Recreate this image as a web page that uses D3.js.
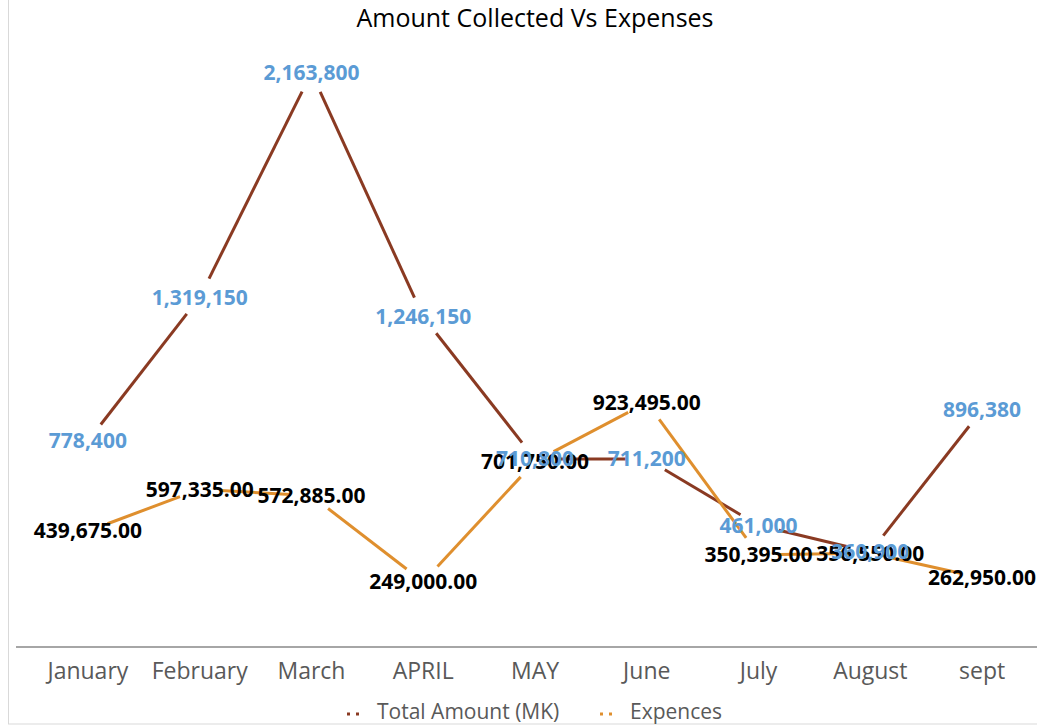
<!DOCTYPE html>
<html>
<head>
<meta charset="utf-8">
<script src="https://cdn.jsdelivr.net/npm/d3@7"></script>
<style>
  body { margin: 0; background: #fff; }
  text { font-family: "Open Sans", "Noto Sans", sans-serif; }
</style>
</head>
<body>
<script>
const w = 1037;
const h = 726;

const months = ["January", "February", "March", "APRIL", "MAY", "June", "July", "August", "sept"];
const totalAmount = [778400, 1319150, 2163800, 1246150, 710800, 711200, 461000, 360900, 896380];
const expences = [439675, 597335, 572885, 249000, 701750, 923495, 350395, 356550, 262950];
const seriesNames = ["Total Amount (MK)", "Expences"];

const brown = "#8a3a22";
const orange = "#df8f2e";
const gap = 21; // lines stop short of each point

const svg = d3.select("body").append("svg").attr("width", w).attr("height", h);

// chart frame
svg.append("rect")
  .attr("x", 8.5).attr("y", -5)
  .attr("width", w + 5).attr("height", 729)
  .attr("fill", "#fff")
  .attr("stroke", "#d9d9d9");

// scales
const xScale = d3.scaleBand().domain(months).range([32, 1038]);
const yScale = d3.scaleLinear().domain([0, 2400000]).range([648, 648 - 2400000 * 2.658e-4]);
const cx = (i) => xScale(months[i]) + xScale.bandwidth() / 2;

// title
svg.append("text")
  .attr("x", 535).attr("y", 27)
  .attr("text-anchor", "middle")
  .style("font-size", "25px")
  .style("fill", "#000")
  .text("Amount Collected Vs Expenses");

// x axis
const xAxis = d3.axisBottom(xScale).tickSize(0).tickPadding(16);
const gx = svg.append("g")
  .attr("transform", "translate(0,647)")
  .call(xAxis);
gx.select(".domain")
  .attr("d", "M16,0H1037")
  .attr("stroke", "#a6a6a6")
  .attr("stroke-width", 2);
gx.selectAll("text")
  .style("font-family", "'Open Sans', sans-serif")
  .style("font-size", "23px")
  .style("fill", "#595959");

// broken line segments
function drawSegments(values, color) {
  const pts = values.map((v, i) => [cx(i), yScale(v)]);
  svg.append("g")
    .selectAll("line")
    .data(d3.pairs(pts))
    .enter()
    .append("line")
    .each(function ([a, b]) {
      const dx = b[0] - a[0];
      const dy = b[1] - a[1];
      const len = Math.sqrt(dx * dx + dy * dy);
      const ux = dx / len, uy = dy / len;
      d3.select(this)
        .attr("x1", a[0] + ux * gap).attr("y1", a[1] + uy * gap)
        .attr("x2", b[0] - ux * gap).attr("y2", b[1] - uy * gap);
    })
    .attr("stroke", color)
    .attr("stroke-width", 3);
}
drawSegments(totalAmount, brown);
drawSegments(expences, orange);

// data labels
function drawLabels(values, color, fmt) {
  svg.append("g")
    .selectAll("text")
    .data(values)
    .enter()
    .append("text")
    .attr("x", (d, i) => cx(i))
    .attr("y", (d) => yScale(d))
    .attr("dy", "0.35em")
    .attr("text-anchor", "middle")
    .style("font-size", "21px")
    .style("font-weight", "bold")
    .style("fill", color)
    .text(fmt);
}
drawLabels(expences, "#000", d3.format(",.2f"));
drawLabels(totalAmount, "#5b9bd5", d3.format(","));

// legend
const legend = [
  { name: seriesNames[0], color: brown, x: 347 },
  { name: seriesNames[1], color: orange, x: 600 }
];
legend.forEach((d) => {
  svg.append("line")
    .attr("x1", d.x).attr("x2", d.x + 14)
    .attr("y1", 714).attr("y2", 714)
    .attr("stroke", d.color)
    .attr("stroke-width", 3)
    .attr("stroke-dasharray", "3,6");
  svg.append("text")
    .attr("x", d.x + 30).attr("y", 712)
    .attr("dy", "0.35em")
    .style("font-size", "21px")
    .style("fill", "#595959")
    .text(d.name);
});
</script>
</body>
</html>
